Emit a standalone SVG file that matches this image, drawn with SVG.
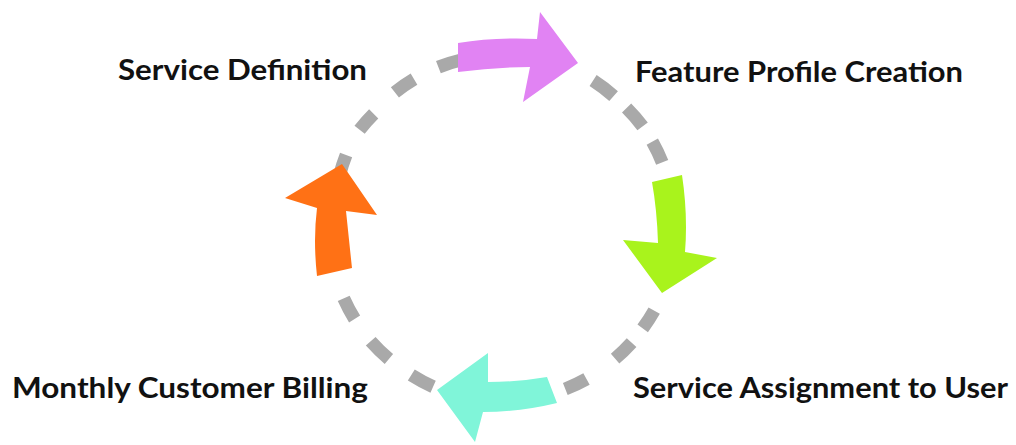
<svg xmlns="http://www.w3.org/2000/svg" width="1016" height="445" viewBox="0 0 1016 445">
  <style>
    .lbl { font-family: "Lato", "Open Sans", "Liberation Sans", sans-serif; font-weight: 700; font-size: 29px; fill: #111111; }
    .ring { fill: none; stroke: #a9a9a9; stroke-width: 13; stroke-linecap: butt; }
  </style>
  <rect width="1016" height="445" fill="#ffffff"/>
  <g id="connectors">
    <g id="ring-dashes" class="ring">
      <path d="M 652.3,141.6 A 173 173 0 0 1 662.2,162.3"/>
      <path d="M 626.6,108.0 A 173 173 0 0 1 642.6,126.4"/>
      <path d="M 593.1,80.5 A 173 173 0 0 1 613.6,96.1"/>
      <path d="M 438.4,67.1 A 173 173 0 0 1 461.9,59.7"/>
      <path d="M 394.9,92.3 A 173 173 0 0 1 414.0,79.1"/>
      <path d="M 359.6,129.7 A 173 173 0 0 1 373.7,113.8"/>
      <path d="M 339.6,175.1 A 173 173 0 0 1 346.1,155.0"/>
      <path d="M 354.6,319.0 A 173 173 0 0 1 343.7,298.4"/>
      <path d="M 388.9,358.9 A 173 173 0 0 1 370.7,341.2"/>
      <path d="M 433.1,386.7 A 173 173 0 0 1 411.3,375.0"/>
      <path d="M 586.5,379.0 A 173 173 0 0 1 565.3,389.0"/>
      <path d="M 631.6,342.6 A 173 173 0 0 1 615.1,358.6"/>
      <path d="M 654.2,310.6 A 173 173 0 0 1 642.7,328.4"/>
    </g>
    <path id="arrow-top" fill="#e183f3" d="M458,43 Q495,37 537,39 L540,12 L578,63 L523,102 L530,67 Q495,67 458,72 Z"/>
    <path id="arrow-right" fill="#a9f31c" d="M652,182 L682,175 Q688,215 685,252 L717,258 L662,293 L623,240 L658,243 Q657,210 652,182 Z"/>
    <path id="arrow-bottom" fill="#80f5d9" d="M547,377 L557,403 Q520,412 483,412 L475,442 L437,390 L488,353 L488,382 Q518,382 547,377 Z"/>
    <path id="arrow-left" fill="#ff7115" d="M342,164 L377,215 L346,211 Q349,240 352,268 L317,276 Q313,240 317,208 L285,198 Z"/>
  </g>
  <g id="node-service-definition">
    <text class="lbl" x="118" y="80" textLength="249" lengthAdjust="spacingAndGlyphs">Service Definition</text>
  </g>
  <g id="node-feature-profile-creation">
    <text class="lbl" x="635" y="82" textLength="328" lengthAdjust="spacingAndGlyphs">Feature Profile Creation</text>
  </g>
  <g id="node-service-assignment">
    <text class="lbl" x="633" y="398" textLength="375" lengthAdjust="spacingAndGlyphs">Service Assignment to User</text>
  </g>
  <g id="node-monthly-billing">
    <text class="lbl" x="12" y="398" textLength="356" lengthAdjust="spacingAndGlyphs">Monthly Customer Billing</text>
  </g>
</svg>
